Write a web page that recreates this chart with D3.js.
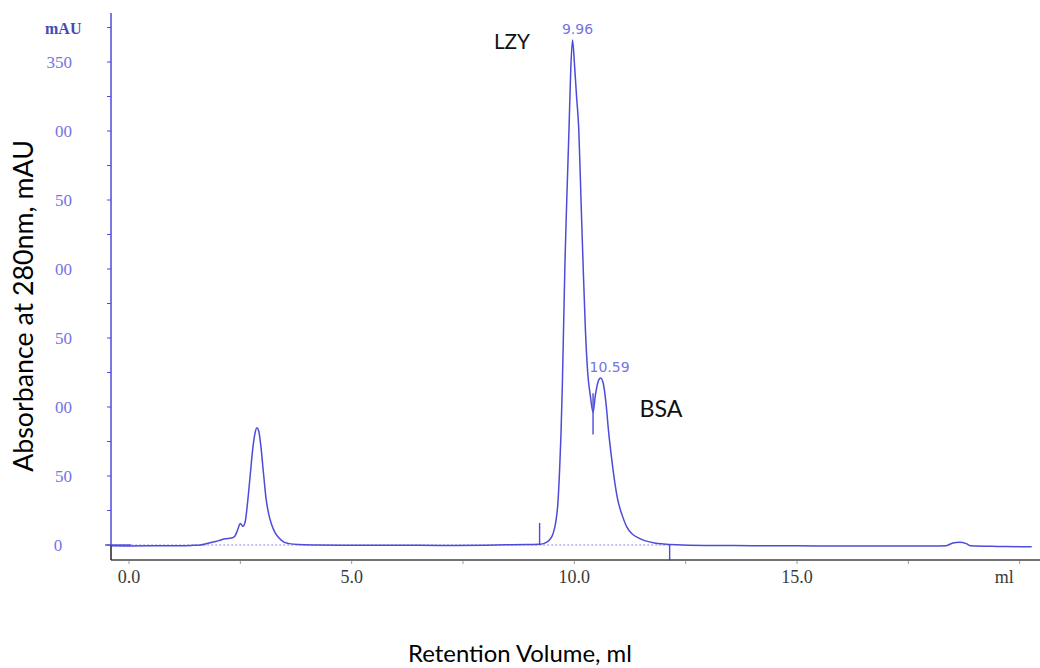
<!DOCTYPE html>
<html>
<head>
<meta charset="utf-8">
<script src="https://cdn.jsdelivr.net/npm/d3@7"></script>
<style>
  html, body { margin: 0; padding: 0; background: #fff; }
</style>
</head>
<body>
<div id="chart"></div>
<script>
// chromatogram trace
const retention = [-0.4, 0.0, 0.5, 1.0, 1.4, 1.6, 1.8, 2.0, 2.15, 2.3, 2.38, 2.44, 2.5, 2.56, 2.61, 2.66, 2.72, 2.78, 2.83, 2.87, 2.91, 2.96, 3.02, 3.08, 3.14, 3.2, 3.28, 3.37, 3.46, 3.6, 3.8, 4.2, 5.0, 6.0, 7.0, 8.0, 8.6, 9.0, 9.22, 9.35, 9.45, 9.52, 9.58, 9.63, 9.67, 9.70, 9.73, 9.76, 9.79, 9.83, 9.88, 9.92, 9.96, 10.0, 10.05, 10.10, 10.15, 10.2, 10.25, 10.3, 10.36, 10.42, 10.47, 10.53, 10.59, 10.65, 10.71, 10.77, 10.84, 10.91, 10.98, 11.07, 11.18, 11.3, 11.45, 11.6, 11.8, 12.0, 12.3, 13.0, 14.0, 15.0, 16.0, 17.0, 18.0, 18.35, 18.5, 18.65, 18.8, 18.9, 19.5, 20.0, 20.27];
const absorbance = [-0.6, -0.7, -0.6, -0.5, -0.3, 0.0, 1.5, 3.0, 4.5, 5.0, 6.5, 11, 15.5, 13.5, 17, 30, 50, 70, 81, 85, 83, 72, 52, 33, 22, 15, 9, 5, 2.5, 1, 0.3, 0, -0.2, -0.1, -0.3, -0.1, 0.2, 0.4, 0.5, 1.5, 4, 8, 16, 30, 55, 80, 115, 160, 205, 250, 301, 345, 366, 350, 325, 301, 250, 200, 155, 125, 108, 96, 108, 118, 121, 117, 103, 82, 62, 45, 32, 22, 13, 8, 5, 3, 1.5, 0.8, 0.2, -0.3, -0.5, -0.6, -0.7, -0.8, -0.8, -0.5, 1.5, 2, 1, -0.5, -1.0, -1.2, -1.3];

// peak labels
const peakVolumes = [9.96, 10.59];
const peakHeights = [366, 121];
const peakNames = ["LZY", "BSA"];

// integration markers (ml, from mAU, to mAU)
const markerVolumes = [9.22, 10.42, 12.14];
const markerLow = [0, 80, -11];
const markerHigh = [16, 110, 0];

// baseline drawn under the peaks
const baselineFrom = -0.4, baselineTo = 12.14;

const yTicks = d3.range(0, 376, 25);
const xTicks = d3.range(0, 20.1, 2.5);

const width = 1040, height = 668;

const svg = d3.select("#chart").append("svg")
    .attr("width", width)
    .attr("height", height)
    .style("background", "#fff");

const x = d3.scaleLinear().domain([0, 15]).range([129, 797]);
const y = d3.scaleLinear().domain([0, 350]).range([545, 62]);

const xMin = x.invert(111), xMax = x.invert(1040);
const yMin = y.invert(560), yMax = y.invert(13);

const blue = "#4c4cd8";
const labelBlue = "#7474e2";

// baseline (dotted)
svg.append("line")
    .attr("x1", x(baselineFrom)).attr("x2", x(baselineTo))
    .attr("y1", y(0)).attr("y2", y(0))
    .attr("stroke", "#8a8ae6")
    .attr("stroke-width", 1.2)
    .attr("stroke-dasharray", "2,2");

// trace
const points = retention.map((v, i) => [v, absorbance[i]]);
const line = d3.line()
    .x(d => x(d[0]))
    .y(d => y(d[1]))
    .curve(d3.curveMonotoneX);

svg.append("path")
    .datum(points)
    .attr("d", line)
    .attr("fill", "none")
    .attr("stroke", blue)
    .attr("stroke-width", 1.5);

// markers
svg.selectAll("line.marker")
    .data(markerVolumes)
    .enter()
    .append("line")
    .attr("class", "marker")
    .attr("x1", d => x(d)).attr("x2", d => x(d))
    .attr("y1", (d, i) => y(markerLow[i]))
    .attr("y2", (d, i) => y(markerHigh[i]))
    .attr("stroke", blue)
    .attr("stroke-width", 1.4);

// x axis
const xAxis = svg.append("g").attr("transform", "translate(0," + y(yMin) + ")");
xAxis.append("line")
    .attr("x1", x(xMin)).attr("x2", x(xMax))
    .attr("stroke", "#444").attr("stroke-width", 1.5);
xAxis.selectAll("line.tick")
    .data(xTicks)
    .enter()
    .append("line")
    .attr("class", "tick")
    .attr("x1", d => x(d)).attr("x2", d => x(d))
    .attr("y1", 1).attr("y2", 4)
    .attr("stroke", "#999");
xAxis.selectAll("text")
    .data(xTicks.filter(d => d % 5 == 0))
    .enter()
    .append("text")
    .attr("x", d => d == 20 ? x(d) - 6 : x(d))
    .attr("y", 23)
    .attr("text-anchor", d => d == 20 ? "end" : "middle")
    .attr("font-family", "Liberation Serif, serif")
    .attr("font-size", 18)
    .attr("fill", "#3a3a3a")
    .text(d => d == 20 ? "ml" : d3.format(".1f")(d));

// y axis
const yAxis = svg.append("g").attr("transform", "translate(" + x(xMin) + ",0)");
yAxis.append("line")
    .attr("y1", y(yMax)).attr("y2", y(0))
    .attr("stroke", blue).attr("stroke-width", 1.5);
yAxis.append("line")
    .attr("y1", y(0)).attr("y2", y(yMin))
    .attr("stroke", "#222").attr("stroke-width", 1.5);
yAxis.selectAll("line.tick")
    .data(yTicks)
    .enter()
    .append("line")
    .attr("class", "tick")
    .attr("x1", -4).attr("x2", 0)
    .attr("y1", d => y(d)).attr("y2", d => y(d))
    .attr("stroke", blue);
yAxis.append("line")
    .attr("x1", -6).attr("x2", 20)
    .attr("y1", y(0)).attr("y2", y(0))
    .attr("stroke", blue).attr("stroke-width", 1.4);

svg.selectAll("text.ylab")
    .data(yTicks.filter(d => d % 50 == 0 || d == 375))
    .enter()
    .append("text")
    .attr("class", "ylab")
    .attr("x", d => d == 375 ? 45 : (d == 0 ? 58 : 72))
    .attr("y", d => y(d) + 6)
    .attr("text-anchor", d => d == 375 ? "start" : (d == 0 ? "middle" : "end"))
    .attr("font-family", "Liberation Serif, serif")
    .attr("font-size", d => d == 375 ? 16 : 17)
    .attr("font-weight", d => d == 375 ? "bold" : "normal")
    .attr("fill", d => d == 375 ? "#4848b8" : labelBlue)
    .text(d => d == 375 ? "mAU" : d);

// white box of the pasted axis title, hiding the first digits
svg.append("rect")
    .attr("x", 0).attr("y", 80)
    .attr("width", 55).attr("height", 398)
    .attr("fill", "#fff");

function fitWidth(sel, w) {
    const cur = sel.node().getComputedTextLength();
    const fs = parseFloat(sel.attr("font-size"));
    sel.attr("font-size", fs * w / cur);
}

const yTitle = svg.append("text")
    .attr("transform", "translate(33,306) rotate(-90)")
    .attr("text-anchor", "middle")
    .attr("font-family", "Lato, 'Open Sans', sans-serif")
    .attr("font-size", 26)
    .attr("fill", "#000")
    .text("Absorbance at 280nm, mAU");
fitWidth(yTitle, 332);

const xTitle = svg.append("text")
    .attr("x", 520).attr("y", 662)
    .attr("text-anchor", "middle")
    .attr("font-family", "Lato, 'Open Sans', sans-serif")
    .attr("font-size", 24)
    .attr("fill", "#000")
    .text("Retention Volume, ml");
fitWidth(xTitle, 224);

// peak retention labels
svg.selectAll("text.peak")
    .data(peakVolumes)
    .enter()
    .append("text")
    .attr("class", "peak")
    .attr("x", d => x(d) + (d > 10 ? 9 : 5))
    .attr("y", (d, i) => y(peakHeights[i]) - 6)
    .attr("text-anchor", "middle")
    .attr("font-family", "DejaVu Sans, sans-serif")
    .attr("font-size", 14)
    .attr("fill", labelBlue)
    .text(d => d3.format(".2f")(d));

// protein names
const nameX = [512, 661];
const nameY = [49, 417];
peakNames.forEach((n, i) => {
    const t = svg.append("text")
        .attr("x", nameX[i]).attr("y", nameY[i])
        .attr("text-anchor", "middle")
        .attr("font-family", "Lato, 'Open Sans', sans-serif")
        .attr("font-size", 24)
        .attr("fill", "#111")
        .text(n);
    fitWidth(t, i == 0 ? 36 : 43);
});
</script>
</body>
</html>
